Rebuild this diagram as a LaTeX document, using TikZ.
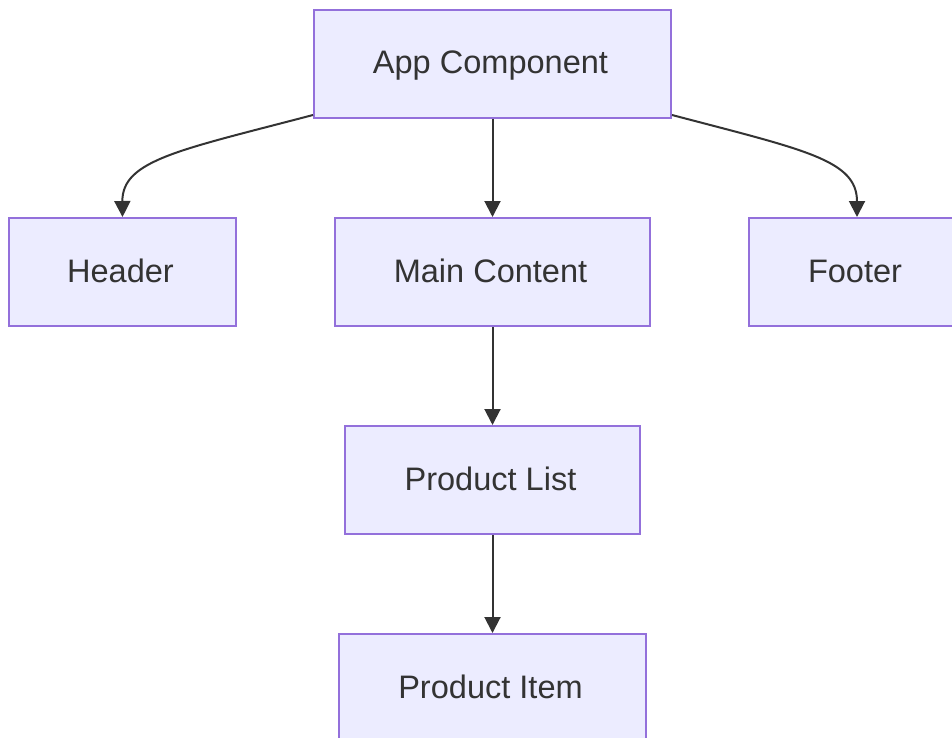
\documentclass[tikz,border=0pt]{standalone}
\usepackage{fontspec}
\setmainfont{Liberation Sans}
\usetikzlibrary{arrows.meta}
\definecolor{boxfill}{HTML}{ECECFF}
\definecolor{boxline}{HTML}{9370DB}
\definecolor{ink}{HTML}{333333}
\tikzset{
  comp/.style={draw=boxline, fill=boxfill, line width=1.5pt, text=ink,
    minimum height=81pt, inner sep=0pt, text height=15pt, text depth=0pt,
    execute at begin node={\kern-3pt},
    font=\fontsize{24.4pt}{29pt}\selectfont},
  link/.style={draw=ink, line width=1.5pt, -{Triangle[length=12pt,width=12pt]}}
}
\begin{document}
\begin{tikzpicture}[x=0.75pt, y=-0.75pt]
  \useasboundingbox (0,0) rectangle (952,738);
  \clip (0,0) rectangle (952,738);
  % component boxes
  \node[comp, minimum width=267.75pt] (app)    at (492.5,64)  {App Component};
  \node[comp, minimum width=170.25pt] (header) at (122.5,272) {Header};
  \node[comp, minimum width=236.25pt] (main)   at (492.5,272) {Main Content};
  \node[comp, minimum width=162pt]    (footer) at (857,272)   {Footer};
  \node[comp, minimum width=221.25pt] (plist)  at (492.5,480) {Product List};
  \node[comp, minimum width=230.25pt] (pitem)  at (492.5,688) {Product Item};
  % hierarchy links
  \draw[link] ([yshift=3pt]app.south west) .. controls (180,150) and (122,160) .. (header.north);
  \draw[link] ([yshift=3pt]app.south east) .. controls (805,150) and (857,160) .. (footer.north);
  \draw[link] (app.south) -- (main.north);
  \draw[link] (main.south) -- (plist.north);
  \draw[link] (plist.south) -- (pitem.north);
\end{tikzpicture}
\end{document}
